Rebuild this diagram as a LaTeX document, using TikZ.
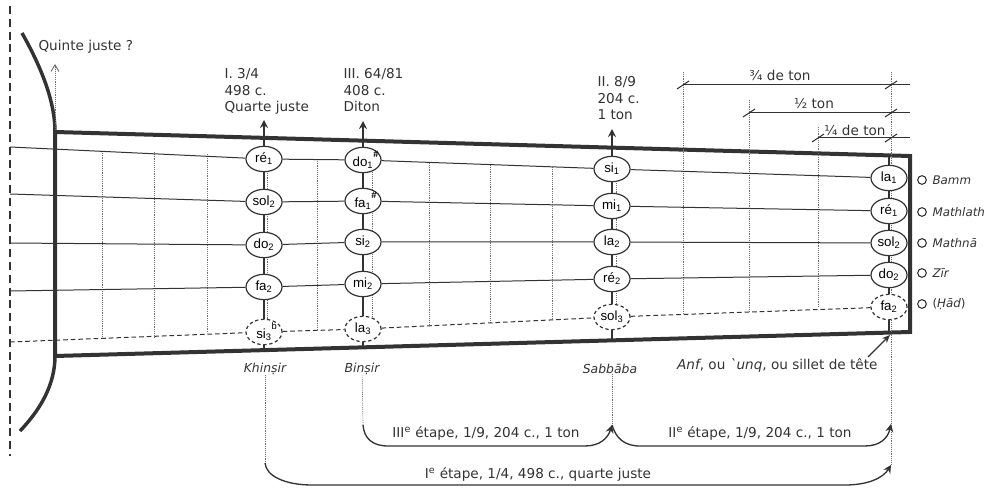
\documentclass[tikz,border=0pt]{standalone}
\usepackage{fontspec}
\setmainfont{DejaVu Sans}
\newfontfamily\notefont{Liberation Sans}
\newfontfamily\plainfont{DejaVu Sans}
\usetikzlibrary{arrows.meta,shapes.geometric}
\definecolor{encre}{gray}{0.2}
\newcommand{\nt}[2]{#1\textsubscript{#2}}
\newcommand{\ntd}[3]{#1\textsubscript{#2}\rlap{\raisebox{3.2pt}{\textsuperscript{#3}}}}
\tikzset{
  note/.style={draw=encre,fill=white,ellipse,line width=0.9pt,minimum width=27pt,minimum height=19pt,inner sep=0pt,font=\notefont\fontsize{10}{11}\selectfont},
  notedash/.style={note,dashed,dash pattern=on 2.5pt off 2pt},
  txt/.style={text=encre,inner sep=0pt,font=\fontsize{10.2}{12.4}\selectfont},
  nom/.style={txt,font=\fontsize{9.3}{12.4}\selectfont\itshape},
  corde/.style={draw=encre,line width=0.75pt},
  fret/.style={draw=encre!70,line width=0.5pt,dash pattern=on 0.7pt off 0.7pt},
  barre/.style={draw=encre,line width=2pt},
  cadre/.style={draw=encre,line width=3pt},
}
\begin{document}
\begin{tikzpicture}[x=0.75pt,y=-0.75pt,line width=0.8pt,>=Stealth]
\useasboundingbox (0,0) rectangle (989,488);
% ---------- bord gauche et caisse ----------
\draw[encre,line width=1.9pt,dash pattern=on 6pt off 3.6pt] (10,6) -- (10,456);
\draw[cadre,line width=2.6pt] (22,33) .. controls (40,65) and (55,100) .. (55,132);
\draw[cadre,line width=2.6pt] (55,356) .. controls (55,385) and (40,410) .. (20,431);
\draw[cadre,line join=miter] (55,132) -- (910,156) -- (910,332) -- (55,356) -- cycle;
% ---------- frettes ----------
\foreach \fx/\ftop/\fbot in {102/151/338, 154/152/337, 207/154/333, 267/156/331, 317/159/329,
  372/161/328, 429/163/325, 490/165/323, 552/167/319, 616/170/316,
  683/72/314, 749/100/311, 818/127/308, 891/72/333}{
  \draw[fret] (\fx,\ftop) -- (\fx,\fbot);
}
% ---------- sillets (barres verticales) ----------
\foreach \col/\cx/\ytop/\ybot in {a/264/138/350, b/363/141/347, c/612/148/340, d/889/156/332}{
  \draw[barre] (\cx,\ytop) -- (\cx,\ybot);
}
% ---------- notes ----------
\foreach \nm/\x/\y/\lab in {a1/264/159/\nt{ré}{1}, a2/264/202/\nt{sol}{2}, a3/264/245/\nt{do}{2}, a4/264/287/\nt{fa}{2},
  b1/363/160/\ntd{do}{1}{\textbf{\#}}, b2/363/201/\ntd{fa}{1}{\textbf{\#}}, b3/363/242/\nt{si}{2}, b4/363/284/\nt{mi}{2},
  c1/612/169/\nt{si}{1}, c2/612/206/\nt{mi}{1}, c3/612/242/\nt{la}{2}, c4/612/279/\nt{ré}{2},
  d1/889/178/\nt{la}{1}, d2/889/211/\nt{ré}{1}, d3/889/243/\nt{sol}{2}, d4/889/275/\nt{do}{2}}{
  \node[note] (\nm) at (\x,\y) {\lab};
}
\foreach \nm/\x/\y/\lab in {a5/264/332/\ntd{si}{3}{b}, b5/363/329/\nt{la}{3}, c5/612/317/\nt{sol}{3}, d5/889/307/\nt{fa}{2}}{
  \node[notedash] (\nm) at (\x,\y) {\lab};
}
% ---------- cordes ----------
\foreach \r/\ys in {1/147, 2/194, 3/243, 4/291}{
  \coordinate (s\r) at (10,\ys);
  \draw[corde] (s\r) -- (a\r) -- (b\r) -- (c\r) -- (d\r);
}
\coordinate (s5) at (10,342);
\draw[corde,dashed,dash pattern=on 3.5pt off 2.2pt] (s5) -- (a5) -- (b5) -- (c5) -- (d5);
% ---------- rapports en haut ----------
\node[txt,anchor=west] (quinte) at (38,47) {Quinte juste ?};
\coordinate (qbas) at (55,130);
\coordinate (qhaut) at (55,64);
\draw[fret,-{Straight Barb[length=5pt,width=6pt,line width=0.7pt,sep=0pt]}] (qbas) -- (qhaut);
\node[txt,anchor=north west,align=left] (quarte) at (224,68) {I. 3/4\\498 c.\\Quarte juste};
\node[txt,anchor=north west,align=left] (diton) at (343,68) {III. 64/81\\408 c.\\Diton};
\node[txt,anchor=north west,align=left] (ton) at (597,76) {II. 8/9\\204 c.\\1 ton};
\coordinate (ha) at (264,120);
\coordinate (hb) at (363,121);
\coordinate (hc) at (612,129);
\foreach \cb/\ce in {a1/ha, b1/hb, c1/hc}{
  \draw[barre,line width=1.4pt,-{Stealth[length=6pt,width=6pt]}] (\cb) -- (\ce);
}
% ---------- quarts de ton ----------
\foreach \nm/\dx/\dy/\lx/\ly/\lab in {tq/683/85/780/75/¾ de ton, dt/749/113/814/104/½ ton, qt/818/138/855/130/¼ de ton}{
  \coordinate (\nm g) at (\dx,\dy);
  \coordinate (\nm d) at (910,\dy);
  \draw[corde] (\nm g) -- (\nm d);
  \draw[corde] (\dx-6,\dy+4) -- (\dx+6,\dy-4);
  \draw[corde] (885,\dy+4) -- (897,\dy-4);
  \node[txt] (l\nm) at (\lx,\ly) {\lab};
}
% ---------- noms des cordes ----------
\foreach \nm/\y/\lab in {bamm/180/Bamm, mathlath/212/Mathlath, mathna/243/Mathnā, zir/273/Zīr}{
  \node[draw=encre,circle,line width=0.8pt,minimum size=6.5pt,inner sep=0pt] (o\nm) at (922,\y) {};
  \node[nom,anchor=west,font=\fontsize{8.9}{12.4}\selectfont\itshape] (\nm) at (932,\y) {\lab};
}
\node[draw=encre,circle,line width=0.8pt,minimum size=6.5pt,inner sep=0pt] (ohad) at (922,304) {};
\node[txt,anchor=west,font=\fontsize{8.9}{12.4}\selectfont] (hadn) at (932,304) {(\textit{Ḥād})};
% ---------- noms des doigts ----------
\node[nom] (khinsir) at (265,369) {Khinṣir};
\node[nom] (binsir) at (362,369) {Binṣir};
\node[nom] (sabbaba) at (610,369) {Sabbāba};
\node[txt,anchor=east] (anf) at (878,365) {\textit{Anf}, ou {\plainfont\itshape `}\textit{unq}, ou sillet de tête};
\coordinate (sillet) at (890,335);
\coordinate (fleche) at (868,357);
\draw[encre,line width=1pt,-{Stealth[length=6pt,width=5pt]}] (fleche) -- (sillet);
% ---------- étapes ----------
\coordinate (k0) at (265,463);
\coordinate (b0) at (363,425);
\coordinate (c0) at (612,425);
\coordinate (d0) at (891,424);
\coordinate (d1b) at (891,465);
\coordinate (dh) at (891,335);
\draw[fret] (khinsir) -- (k0);
\draw[fret] (binsir) -- (b0);
\draw[fret] (sabbaba.south -| c0) -- (c0);
\draw[fret] (dh) -- (d1b);
\draw[corde,line width=1pt,-{Stealth[length=6pt,width=6pt]}] (b0) .. controls (364,438) and (372,446) .. (388,446) -- (585,446) .. controls (600,446) and (608,438) .. (c0);
\draw[corde,line width=1pt,-{Stealth[length=6pt,width=6pt]}] (c0) .. controls (616,438) and (624,446) .. (640,446) -- (865,446) .. controls (880,446) and (888,438) .. (d0);
\draw[corde,line width=1pt,-{Stealth[length=6pt,width=6pt]}] (k0) .. controls (266,476) and (285,485) .. (312,485) -- (845,485) .. controls (868,485) and (883,478) .. (d1b);
\node[txt] (e3) at (486,433) {III\textsuperscript{e} étape, 1/9, 204 c., 1 ton};
\node[txt] (e2) at (760,433) {II\textsuperscript{e} étape, 1/9, 204 c., 1 ton};
\node[txt] (e1) at (538,474) {I\textsuperscript{e} étape, 1/4, 498 c., quarte juste};
\end{tikzpicture}
\end{document}
